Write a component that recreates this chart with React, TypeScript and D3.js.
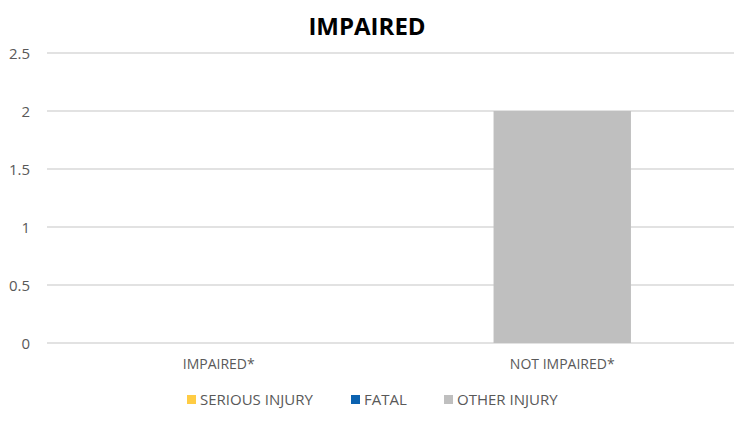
import React from "react";
import * as d3 from "d3";

const categories = ["IMPAIRED*", "NOT IMPAIRED*"];
const seriesNames = ["SERIOUS INJURY", "FATAL", "OTHER INJURY"];
const seriousInjury = [0, 0];
const fatal = [0, 0];
const otherInjury = [0, 2];
const yTicks = [0, 0.5, 1, 1.5, 2, 2.5];

const colors = ["#FFCC44", "#0B62B0", "#BFBFBF"];
const font = "'Open Sans', sans-serif";

export default function App() {
  const width = 744;
  const height = 423;
  const left = 47;
  const right = 734;
  const top = 53;
  const bottom = 343;

  const x = d3.scaleBand().domain(categories).range([left, right]).paddingInner(0).paddingOuter(0);
  const y = d3.scaleLinear().domain([0, 2.5]).range([bottom, top]);
  const barW = x.bandwidth() / 2.5;

  const rows = categories.map((c, i) => ({
    cat: c,
    "SERIOUS INJURY": seriousInjury[i],
    FATAL: fatal[i],
    "OTHER INJURY": otherInjury[i],
  }));
  const stacked = d3.stack<any>().keys(seriesNames)(rows);

  const legendX = [187, 351, 444];

  return (
    <svg width={width} height={height} style={{ position: "absolute", left: 0, top: 0, background: "#fff" }}>
      <text x={367} y={35} textAnchor="middle" fontFamily={font} fontWeight="bold" fontSize={24} fill="#000">
        IMPAIRED
      </text>
      {yTicks.map((t) => (
        <g key={t}>
          <line x1={left} x2={right} y1={y(t)} y2={y(t)} stroke="#D9D9D9" strokeWidth={1.5} />
          <text x={30} y={y(t) + 5.5} textAnchor="end" fontFamily={font} fontSize={15} fill="#595959">
            {t}
          </text>
        </g>
      ))}
      {stacked.map((s, si) =>
        s.map((d, i) =>
          d[1] - d[0] > 0 ? (
            <rect
              key={si + "-" + i}
              x={(x(categories[i]) as number) + (x.bandwidth() - barW) / 2}
              width={barW}
              y={y(d[1])}
              height={y(d[0]) - y(d[1])}
              fill={colors[si]}
            />
          ) : null
        )
      )}
      {categories.map((c) => (
        <text
          key={c}
          x={(x(c) as number) + x.bandwidth() / 2}
          y={369}
          textAnchor="middle"
          fontFamily={font}
          fontSize={14}
          fill="#595959"
        >
          {c}
        </text>
      ))}
      {seriesNames.map((n, i) => (
        <g key={n}>
          <rect x={legendX[i]} y={395} width={9} height={9} fill={colors[i]} />
          <text x={legendX[i] + 13} y={404.5} fontFamily={font} fontSize={15} fill="#595959">
            {n}
          </text>
        </g>
      ))}
    </svg>
  );
}
